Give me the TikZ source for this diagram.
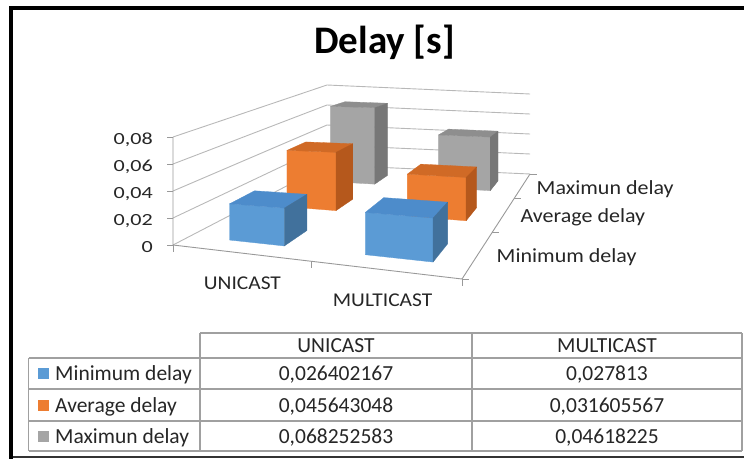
\documentclass[tikz,border=0pt]{standalone}
\usepackage{fontspec}
\setmainfont{Carlito}
\newfontfamily\valfont{Carlito}[FakeStretch=1.3]
\newfontfamily\catfont{Carlito}[FakeStretch=1.1]

\definecolor{blueF}{HTML}{5B9BD5}
\definecolor{blueT}{HTML}{4D8CCB}
\definecolor{blueS}{HTML}{41719C}
\definecolor{orangeF}{HTML}{ED7D31}
\definecolor{orangeT}{HTML}{D06A26}
\definecolor{orangeS}{HTML}{B5581C}
\definecolor{grayF}{HTML}{A5A5A5}
\definecolor{grayT}{HTML}{8E8E8E}
\definecolor{grayS}{HTML}{777777}
\definecolor{gridc}{HTML}{B8B8B8}
\definecolor{axisc}{HTML}{999999}
\definecolor{tabc}{HTML}{A0A0A0}
\definecolor{labc}{HTML}{262626}

% perspective map of the chart floor (u: categories, v: series depth, t: value)
\newcommand\projpt[4]{%
  \pgfmathsetmacro\pjD{1-0.1962*(#1)+0.4893*(#2)}%
  \pgfmathsetmacro\pjS{(1-(#2))*((1-(#1))*1350+(#1)*1668)+(#2)*1000}%
  \pgfmathsetmacro\pjX{(198.36*(#1)+314*(#2)+173)/\pjD}%
  \pgfmathsetmacro\pjY{(-20.74*(#1)+0.73*(#2)+245)/\pjD-(#3)*\pjS}%
  \coordinate (#4) at (\pjX,\pjY);%
}

% one 3D column: u0 u1 v0 v1 value front top side
\newcommand\drawcolumn[8]{%
  \projpt{#1}{#3}{0}{c-fbl}%
  \projpt{#2}{#3}{0}{c-fbr}%
  \projpt{#1}{#3}{#5}{c-ftl}%
  \projpt{#2}{#3}{#5}{c-ftr}%
  \projpt{#1}{#4}{#5}{c-btl}%
  \projpt{#2}{#4}{#5}{c-btr}%
  \projpt{#2}{#4}{0}{c-bbr}%
  \filldraw[fill=#6,draw=#6,face] (c-fbl) -- (c-fbr) -- (c-ftr) -- (c-ftl) -- cycle;
  \filldraw[fill=#7,draw=#7,face] (c-ftl) -- (c-ftr) -- (c-btr) -- (c-btl) -- cycle;
  \filldraw[fill=#8,draw=#8,face] (c-fbr) -- (c-bbr) -- (c-btr) -- (c-ftr) -- cycle;
}

\begin{document}
\begin{tikzpicture}[x=1pt,y=-1pt,
  face/.style={line width=0.3pt,line join=round},
  gridline/.style={draw=gridc,line width=0.9pt},
  axisline/.style={draw=axisc,line width=0.9pt},
  tabline/.style={draw=tabc,line width=1.1pt},
  valtext/.style={font=\valfont\fontsize{17}{18}\selectfont,text=labc,inner sep=0pt},
  cattext/.style={font=\catfont\fontsize{19.5}{22}\selectfont,text=labc,inner sep=0pt},
  sertext/.style={font=\catfont\fontsize{20}{22}\selectfont,text=labc,inner sep=0pt},
  tabtext/.style={font=\fontsize{21.5}{24}\selectfont,text=labc,inner sep=0pt},
  keybox/.style={minimum size=11pt,inner sep=0pt,draw=none}]
\useasboundingbox (0,0) rectangle (744,459);

% outer frame
\fill[black] (9,6) rectangle (744,10);
\fill[black] (9,6) rectangle (13,459);
\draw[line width=1.5pt,draw=black!80] (13,457) -- (744,457);

% title
\node[font=\bfseries\fontsize{39}{44}\selectfont,anchor=base,inner sep=0pt] (title) at (384.5,53) {Delay [s]};

% walls: gridlines on the side wall and the back wall
\foreach \t in {0,0.02,0.04,0.06,0.08}{
  \projpt{0}{0}{\t}{ga}\projpt{0}{1}{\t}{gb}\projpt{1}{1}{\t}{gc}
  \draw[gridline] (ga) -- (gb) -- (gc);
}

% axes
\projpt{0}{0}{0}{o}
\projpt{0}{0}{0.08}{otop}
\projpt{1}{0}{0}{fr}
\projpt{1}{1}{0}{br}
\projpt{0.535}{0}{0}{cmid}
\draw[axisline] (otop) -- (o) -- (fr) -- (br);
\foreach \c in {o,cmid,fr}{\draw[axisline] (\c) -- ++(0,7);}
\foreach \s [count=\k] in {0,0.3333,0.6667,1}{
  \projpt{1}{\s}{0}{st\k}
  \draw[axisline] (st\k) -- ++(7,0);
}

% value axis ticks and labels
\foreach \t/\lab [count=\k] in {0/0,0.02/{0,02},0.04/{0,04},0.06/{0,06},0.08/{0,08}}{
  \projpt{0}{0}{\t}{vt\k}
  \draw[axisline] (vt\k) -- ++(-6,0);
  \node[valtext,anchor=base east] (val\k) at ([shift={(-20,7.5)}]vt\k) {\lab};
}

% columns, back row first
\drawcolumn{0.166}{0.383}{0.747}{0.880}{0.068252583}{grayF}{grayT}{grayS}
\drawcolumn{0.672}{0.889}{0.747}{0.880}{0.04618225}{grayF}{grayT}{grayS}
\drawcolumn{0.166}{0.383}{0.413}{0.547}{0.045643048}{orangeF}{orangeT}{orangeS}
\drawcolumn{0.672}{0.889}{0.413}{0.547}{0.031605567}{orangeF}{orangeT}{orangeS}
\drawcolumn{0.166}{0.383}{0.080}{0.213}{0.026402167}{blueF}{blueT}{blueS}
\drawcolumn{0.672}{0.889}{0.080}{0.213}{0.027813}{blueF}{blueT}{blueS}

% category labels
\projpt{0.2745}{0}{0}{cu}
\projpt{0.7805}{0}{0}{cm}
\node[cattext,anchor=base] (catU) at ([shift={(2,37)}]cu) {UNICAST};
\node[cattext,anchor=base] (catM) at ([shift={(-4.5,36)}]cm) {MULTICAST};

% series labels
\projpt{1}{0.8333}{0}{sMax}
\projpt{1}{0.5}{0}{sAvg}
\projpt{1}{0.1667}{0}{sMin}
\node[sertext,anchor=base west] (serMax) at ([shift={(14,8.5)}]sMax) {Maximun delay};
\node[sertext,anchor=base west] (serAvg) at ([shift={(16.5,8.5)}]sAvg) {Average delay};
\node[sertext,anchor=base west] (serMin) at ([shift={(18,9)}]sMin) {Minimum delay};

% data table
\draw[tabline] (200,333) -- (742,333);
\foreach \y in {358,389,421,451}{\draw[tabline] (28.5,\y) -- (742,\y);}
\draw[tabline] (28.5,358) -- (28.5,451);
\foreach \x in {200,472,742}{\draw[tabline] (\x,333) -- (\x,451);}

\node[tabtext,anchor=base] (hU) at (336,352.5) {UNICAST};
\node[tabtext,anchor=base] (hM) at (607,352.5) {MULTICAST};

\node[keybox,fill=blueF] (kMin) at (43.5,373.5) {};
\node[keybox,fill=orangeF] (kAvg) at (43.5,405) {};
\node[keybox,fill=grayF] (kMax) at (43.5,436) {};
\node[tabtext,anchor=base west] (rMin) at (55,380.5) {Minimum delay};
\node[tabtext,anchor=base west] (rAvg) at (55,412) {Average delay};
\node[tabtext,anchor=base west] (rMax) at (55,443) {Maximun delay};

\node[tabtext,anchor=base] (dMinU) at (336,380.5) {0,026402167};
\node[tabtext,anchor=base] (dMinM) at (607,380.5) {0,027813};
\node[tabtext,anchor=base] (dAvgU) at (336,412) {0,045643048};
\node[tabtext,anchor=base] (dAvgM) at (607,412) {0,031605567};
\node[tabtext,anchor=base] (dMaxU) at (336,443) {0,068252583};
\node[tabtext,anchor=base] (dMaxM) at (607,443) {0,04618225};
\end{tikzpicture}
\end{document}
